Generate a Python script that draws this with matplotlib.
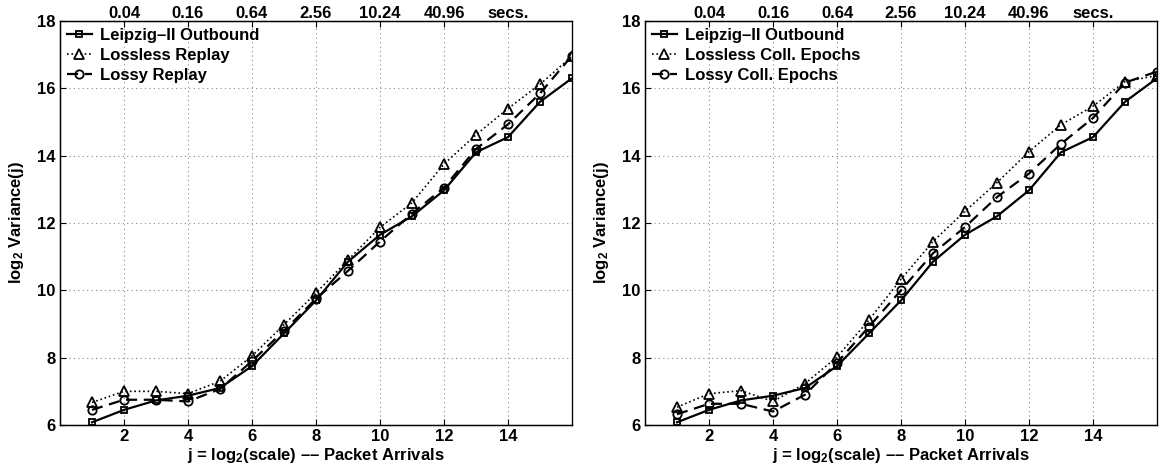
import numpy as np
import matplotlib
matplotlib.use("Agg")
import matplotlib.pyplot as plt

plt.rcParams["font.family"] = ["Liberation Sans", "DejaVu Sans"]
plt.rcParams["font.weight"] = "bold"
plt.rcParams["font.size"] = 12
plt.rcParams["mathtext.fontset"] = "custom"
plt.rcParams["mathtext.rm"] = "Liberation Sans:bold"
plt.rcParams["mathtext.bf"] = "Liberation Sans:bold"
plt.rcParams["mathtext.default"] = "bf"

# Oktāvas (j) un log2 dispersija
j = np.arange(1, 17)

leipzig = [6.08, 6.45, 6.73, 6.87, 7.1, 7.75, 8.72, 9.7, 10.85, 11.65,
           12.2, 12.97, 14.1, 14.55, 15.6, 16.3]

lossless_replay = [6.67, 7.0, 7.0, 6.93, 7.3, 8.05, 8.98, 9.92, 10.9, 11.87,
                   12.6, 13.75, 14.62, 15.4, 16.12, 16.95]
lossy_replay = [6.45, 6.75, 6.75, 6.7, 7.07, 7.9, 8.8, 9.75, 10.58, 11.45,
                12.28, 13.05, 14.2, 14.93, 15.85, 16.97]

lossless_epochs = [6.53, 6.93, 7.02, 6.7, 7.23, 8.02, 9.12, 10.33, 11.45, 12.35,
                   13.2, 14.12, 14.92, 15.47, 16.2, 16.38]
lossy_epochs = [6.32, 6.63, 6.63, 6.4, 6.9, 7.85, 8.92, 10.0, 11.1, 11.88,
                12.77, 13.47, 14.35, 15.12, 16.17, 16.5]

x_ticks = [2, 4, 6, 8, 10, 12, 14]
y_ticks = [6, 8, 10, 12, 14, 16, 18]
top_labels = ["0.04", "0.16", "0.64", "2.56", "10.24", "40.96", "secs."]

fig = plt.figure(figsize=(11.66, 4.71), dpi=100)
ax_left = fig.add_axes([60 / 1166, 46 / 471, 512 / 1166, 404 / 471])
ax_right = fig.add_axes([645 / 1166, 46 / 471, 512 / 1166, 404 / 471])


def draw_panel(ax, lossless, lossy, names):
    ax.plot(j, leipzig, "k-", marker="s", mfc="none", mec="k", ms=5, mew=1.3,
            lw=1.6, label="Leipzig\u2013II Outbound")
    ax.plot(j, lossless, "k:", marker="^", mfc="none", mec="k", ms=7, mew=1.3,
            lw=1.2, label=names[0])
    ax.plot(j, lossy, "k--", marker="o", mfc="none", mec="k", ms=6, mew=1.3,
            lw=1.6, dashes=(5, 3), label=names[1])

    ax.set_xlim(0, 16)
    ax.set_ylim(6, 18)
    ax.set_xticks(x_ticks)
    ax.set_yticks(y_ticks)
    ax.grid(True, linestyle=(0, (1, 3)), color="#888888", linewidth=0.8)
    ax.tick_params(direction="in", length=4, width=0.8, labelsize=12, pad=3)
    for s in ax.spines.values():
        s.set_linewidth(1.0)
    ax.spines["right"].set_color("#777777")

    ax.set_xlabel("j = log$_2$(scale) \u2013\u2013 Packet Arrivals",
                  fontsize=12, fontweight="bold", labelpad=1)
    ax.set_ylabel("log$_2$ Variance(j)", fontsize=12, fontweight="bold", labelpad=8)

    top = ax.twiny()
    top.set_xlim(ax.get_xlim())
    top.set_xticks(x_ticks)
    top.set_xticklabels(top_labels)
    top.tick_params(direction="in", length=4, width=0.8, labelsize=12, pad=0)

    ax.legend(loc="upper left", frameon=False, fontsize=12,
              handlelength=1.5, handletextpad=0.5, labelspacing=0.3,
              borderaxespad=0.2, borderpad=0.2)


draw_panel(ax_left, lossless_replay, lossy_replay,
           ["Lossless Replay", "Lossy Replay"])
draw_panel(ax_right, lossless_epochs, lossy_epochs,
           ["Lossless Coll. Epochs", "Lossy Coll. Epochs"])

fig.savefig("out.png", dpi=100)
